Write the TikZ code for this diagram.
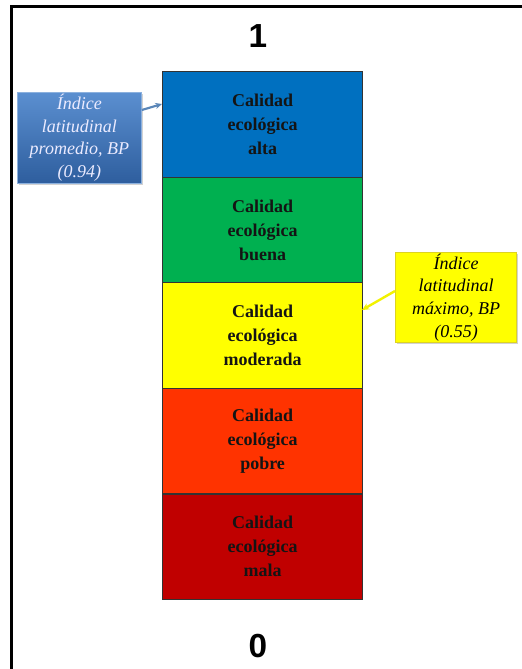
\documentclass[tikz,border=0pt]{standalone}
\usepackage{fontspec}
\setmainfont{Liberation Serif}
\newfontfamily\numfont{Liberation Sans}
\usetikzlibrary{shadows,arrows.meta}
\definecolor{cblue}{HTML}{0070C0}
\definecolor{cgreen}{HTML}{00B050}
\definecolor{cyellow}{HTML}{FFFF00}
\definecolor{corange}{HTML}{FF3300}
\definecolor{cred}{HTML}{C00000}
\definecolor{cotext}{HTML}{141414}
\definecolor{calltop}{HTML}{5B8FD0}
\definecolor{callbot}{HTML}{2E5E9E}
\definecolor{callarrow}{HTML}{5A86B8}
\definecolor{ylarrow}{HTML}{F2F200}
\tikzset{
  band/.style={draw=black!80, line width=0.9pt, minimum width=150pt, minimum height=79.2pt, inner sep=0pt,
    font=\fontsize{13.5}{18}\selectfont\bfseries, text=cotext, align=center, anchor=north west},
  callblue/.style={draw=calltop!70!white, line width=0.6pt, top color=calltop, bottom color=callbot,
    minimum width=93pt, minimum height=68pt, inner sep=0pt, align=center, anchor=north west,
    text=white!92!blue, font=\fontsize{13.5}{17}\selectfont\itshape,
    drop shadow={shadow xshift=1.2pt, shadow yshift=-1.2pt, opacity=0.35}},
  callyellow/.style={draw=yellow!85!black, line width=0.6pt, fill=cyellow,
    minimum width=91pt, minimum height=67.5pt, inner sep=0pt, align=center, anchor=north west,
    text=black, font=\fontsize{13.5}{17}\selectfont\itshape,
    drop shadow={shadow xshift=1.2pt, shadow yshift=-1.2pt, opacity=0.35}},
  endlabel/.style={font=\numfont\fontsize{25}{25}\selectfont\bfseries}
}
\begin{document}
\begin{tikzpicture}[x=0.75pt,y=-0.75pt]
\useasboundingbox (0,0) rectangle (522,669);
\fill[white] (0,0) rectangle (522,669);
% frame
\draw[line width=2.2pt] (11.5,669) -- (11.5,6.5) -- (522,6.5);
% end labels
\node[endlabel] (one) at (258,36) {1};
\node[endlabel] (zero) at (258,646) {0};
% bands
\node[band, fill=cblue]   (b1) at (162,71)    {Calidad\\ecológica\\alta};
\node[band, fill=cgreen]  (b2) at (162,176.6) {Calidad\\ecológica\\buena};
\node[band, fill=cyellow] (b3) at (162,282.2) {Calidad\\ecológica\\moderada};
\node[band, fill=corange] (b4) at (162,387.8) {Calidad\\ecológica\\pobre};
\node[band, fill=cred]    (b5) at (162,493.4) {Calidad\\ecológica\\mala};
% callouts
\node[callblue] (cl) at (17,92) {Índice\\latitudinal\\promedio, BP\\(0.94)};
\node[callyellow] (cr) at (395,252) {Índice\\latitudinal\\máximo, BP\\(0.55)};
\coordinate (clend) at (162,104);
\coordinate (crend) at (362,310);
\draw[callarrow, line width=1.6pt, -{Stealth[length=5pt,width=4.5pt]}] (cl.east |- 0,110) -- (clend);
\draw[ylarrow, line width=1.8pt, -{Stealth[length=5.5pt,width=5pt]}] (cr.west |- 0,291) -- (crend);
\end{tikzpicture}
\end{document}
